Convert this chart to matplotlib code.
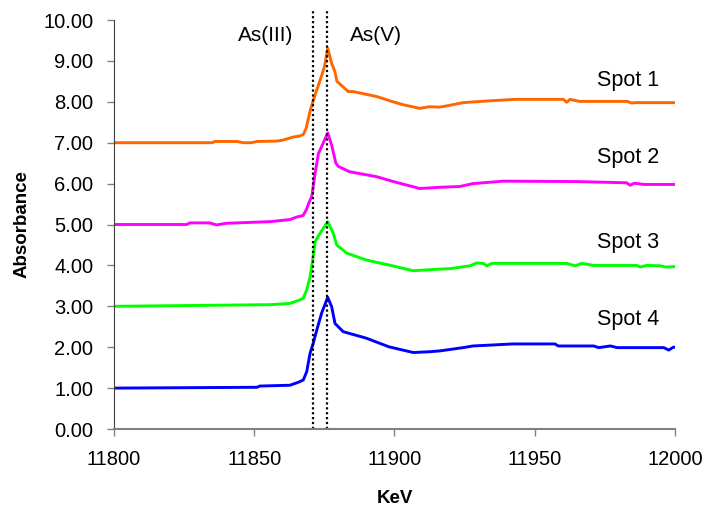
import numpy as np
import matplotlib
matplotlib.use("Agg")
import matplotlib.pyplot as plt

plt.rcParams['font.family'] = ['Liberation Sans', 'DejaVu Sans']

# Spot 1 (orange)
x1 = [11800, 11835, 11836, 11844, 11846, 11849, 11851, 11858, 11860, 11862, 11864, 11866,
      11867.5, 11868.5, 11870, 11871.5, 11873.5, 11875, 11876.2, 11877.6, 11878.7, 11879.5,
      11883.5, 11885.3, 11893.6, 11899.5, 11903, 11909, 11912.5, 11916, 11918.6, 11924.5,
      11932.9, 11943, 11960.2, 11961.4, 11962.6, 11966, 11983, 11984.5, 11986, 12000]
y1 = [7.0, 7.0, 7.03, 7.03, 7.0, 7.0, 7.03, 7.04, 7.06, 7.1, 7.14, 7.16,
      7.2, 7.35, 7.8, 8.13, 8.53, 8.85, 9.31, 8.94, 8.75, 8.5,
      8.25, 8.25, 8.13, 8.0, 7.93, 7.84, 7.88, 7.87, 7.9, 7.98,
      8.02, 8.06, 8.06, 7.99, 8.06, 8.01, 8.01, 7.97, 7.98, 7.98]

# Spot 2 (magenta)
x2 = [11800, 11826, 11827, 11834, 11836.6, 11840, 11855.6, 11862.7, 11865, 11867.4, 11868.5,
      11869.9, 11870.5, 11871.7, 11872.9, 11874, 11876.2, 11877.6, 11879.1, 11880, 11884,
      11893.6, 11899.6, 11909, 11916.2, 11923.3, 11928, 11938.8, 11964.9, 11982.8, 11984,
      11985.5, 11988.8, 12000]
y2 = [5.0, 5.0, 5.04, 5.04, 4.99, 5.03, 5.07, 5.12, 5.18, 5.22, 5.35,
      5.6, 5.68, 6.25, 6.74, 6.9, 7.24, 6.94, 6.5, 6.42, 6.29,
      6.17, 6.05, 5.88, 5.91, 5.93, 6.0, 6.06, 6.05, 6.02, 5.96,
      6.01, 5.98, 5.98]

# Spot 3 (green)
x3 = [11800, 11855.6, 11862.7, 11866, 11867.5, 11868.7, 11869.9, 11871, 11871.7, 11873.4,
      11876.2, 11878.2, 11879.4, 11883, 11890, 11898, 11906.7, 11911.5, 11916.2, 11919.7,
      11926.9, 11929.3, 11931.7, 11932.9, 11934.7, 11961.4, 11964.4, 11966.8, 11971, 11986.4,
      11987.6, 11990, 11994.8, 11996.6, 12000]
y3 = [3.0, 3.04, 3.07, 3.15, 3.2, 3.4, 3.72, 4.21, 4.58, 4.78,
      5.07, 4.78, 4.5, 4.3, 4.13, 4.01, 3.87, 3.89, 3.91, 3.92,
      3.99, 4.06, 4.05, 3.99, 4.05, 4.05, 3.99, 4.05, 4.0, 4.0,
      3.96, 4.0, 3.99, 3.96, 3.97]

# Spot 4 (blue)
x4 = [11800, 11851, 11852, 11862.7, 11866, 11867.5, 11868.7, 11869.9, 11871, 11872.3, 11874,
      11876.2, 11877.6, 11878.8, 11881.7, 11890, 11898, 11906.7, 11912.7, 11916.2, 11924.5,
      11928, 11942.3, 11957.2, 11958.4, 11971, 11972.8, 11977, 11979.4, 11996, 11997.8,
      11999.4, 12000]
y4 = [1.0, 1.02, 1.05, 1.07, 1.15, 1.2, 1.4, 1.85, 2.09, 2.42, 2.83,
      3.22, 2.99, 2.58, 2.38, 2.22, 2.01, 1.87, 1.89, 1.91, 1.99,
      2.03, 2.08, 2.08, 2.03, 2.03, 1.99, 2.03, 1.99, 1.99, 1.93,
      2.0, 2.0]

series = [(x1, y1, '#FF6600', 'Spot 1', 8.52),
          (x2, y2, '#FF00FF', 'Spot 2', 6.64),
          (x3, y3, '#00FF00', 'Spot 3', 4.56),
          (x4, y4, '#0000FF', 'Spot 4', 2.67)]

edges = [11870.8, 11875.8]

fig = plt.figure(figsize=(7.05, 5.08), dpi=100)
ax = fig.add_axes([0.1617, 0.1555, 0.7957, 0.8051])

for x, y, c, name, ly in series:
    ax.plot(x, y, color=c, lw=2.1)
    ax.text(11983.2, ly, name, ha='center', va='center', fontsize=15.5)

# edge positions, dotted, run a little above the plot area
for e in edges:
    ax.plot([e, e], [0, 10.25], color='black', lw=1.6, ls=(0, (1, 1.2)), clip_on=False)

ax.text(11854.2, 9.63, 'As(III)', ha='center', va='center', fontsize=15)
ax.text(11893.3, 9.63, 'As(V)', ha='center', va='center', fontsize=15)

ax.set_xlim(11800, 12000)
ax.set_ylim(0, 10)
ax.set_xticks([11800, 11850, 11900, 11950, 12000])
ax.set_yticks(np.arange(0, 11, 1))
ax.set_yticklabels(['%.2f' % v for v in np.arange(0, 11, 1)])
ax.tick_params(labelsize=14.5, length=5, color='#808080', width=1)
ax.tick_params(axis='x', pad=10)
ax.tick_params(axis='y', pad=10)

for s in ['top', 'right']:
    ax.spines[s].set_visible(False)
ax.spines['left'].set_color('#404040')
ax.spines['bottom'].set_color('#808080')
ax.spines['bottom'].set_linewidth(1.5)

ax.set_xlabel('KeV', fontsize=13.5, fontweight='bold', labelpad=15)
ax.set_ylabel('Absorbance', fontsize=13.5, fontweight='bold', labelpad=9)

fig.savefig('out.png', dpi=100)
